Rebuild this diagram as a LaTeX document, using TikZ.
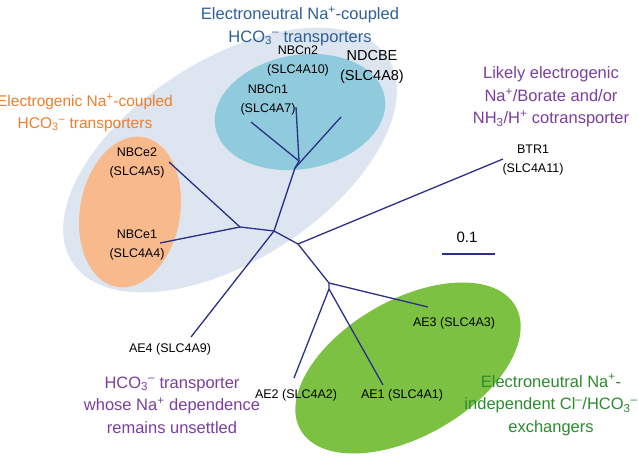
\documentclass[tikz,border=0pt]{standalone}
\usepackage{fontspec}
\setmainfont{Liberation Sans}
\definecolor{bgblue}{HTML}{DDE5F0}
\definecolor{nteal}{HTML}{8FCBDC}
\definecolor{norange}{HTML}{F8BA8C}
\definecolor{ngreen}{HTML}{7DC142}
\definecolor{tblue}{HTML}{2E5F98}
\definecolor{torange}{HTML}{EE7D2C}
\definecolor{tpurple}{HTML}{7A3E9E}
\definecolor{tgreen}{HTML}{2C8A30}
\definecolor{branch}{HTML}{2B2F8A}
\newcommand{\hco}{HCO\textsubscript{3}\textsuperscript{--}}
\newcommand{\up}[1]{\textsuperscript{#1}}
\tikzset{
  gene/.style={align=center, font=\fontsize{12.5}{19}\selectfont, inner sep=1pt},
  group/.style={align=center, font=\fontsize{16.5}{22.5}\selectfont, inner sep=1pt},
  br/.style={branch, line width=1.3pt}
}
\begin{document}
\begin{tikzpicture}[x=1pt,y=-1pt]
\useasboundingbox (0,0) rectangle (638,456);
% clades
\fill[bgblue, rotate around={33:(230,160)}] (230,160) ellipse (188 and 100);
\fill[nteal, rotate around={10:(300,112)}] (300,112) ellipse (86 and 57);
\fill[norange, rotate around={-10:(130,212)}] (130,212) ellipse (50 and 76);
\fill[ngreen, rotate around={30:(408,368)}] (408,368) ellipse (124 and 68);
% tree
\coordinate (c) at (274,231);
\coordinate (d) at (240,227);
\coordinate (b) at (295,168);
\coordinate (a) at (299,161);
\coordinate (e) at (298,244);
\coordinate (f) at (329,283);
\coordinate (g) at (329,289);
\coordinate (tn1) at (251,122);
\coordinate (tn2) at (296,107);
\coordinate (tnd) at (341,117);
\coordinate (te2) at (169,162);
\coordinate (te1) at (160,243);
\coordinate (tbt) at (503,159);
\coordinate (ta4) at (191,337);
\coordinate (ta3) at (428,307);
\coordinate (ta2) at (294,378);
\coordinate (ta1) at (383,385);
\draw[br] (c) -- (b) -- (a) -- (tn1);
\draw[br] (a) -- (tn2);
\draw[br] (b) -- (tnd);
\draw[br] (c) -- (d) -- (te2);
\draw[br] (d) -- (te1);
\draw[br] (c) -- (ta4);
\draw[br] (c) -- (e) -- (tbt);
\draw[br] (e) -- (f) -- (ta3);
\draw[br] (f) -- (g) -- (ta2);
\draw[br] (g) -- (ta1);
% scale bar
\coordinate (s1) at (442,254);
\coordinate (s2) at (495,254);
\draw[br] (s1) -- (s2);
\node[gene, font=\fontsize{15}{17}\selectfont] (sbar) at (467,237) {0.1};
% genes
\node[gene] (nbcn1) at (268,100) {NBCn1\\(SLC4A7)};
\node[gene] (nbcn2) at (298,61) {NBCn2\\(SLC4A10)};
\node[gene, font=\fontsize{14.5}{20}\selectfont] (ndcbe) at (372,67) {NDCBE\\(SLC4A8)};
\node[gene] (nbce2) at (137,163) {NBCe2\\(SLC4A5)};
\node[gene] (nbce1) at (137,245) {NBCe1\\(SLC4A4)};
\node[gene] (btr1) at (533,160) {BTR1\\(SLC4A11)};
\node[gene] (ae4) at (170,349) {AE4 (SLC4A9)};
\node[gene] (ae3) at (454,323) {AE3 (SLC4A3)};
\node[gene] (ae2) at (296,395) {AE2 (SLC4A2)};
\node[gene] (ae1) at (402,395) {AE1 (SLC4A1)};
% groups
\node[group, tblue] (gneut) at (300,26) {Electroneutral Na\up{+}-coupled\\\hco{} transporters};
\node[group, torange, font=\fontsize{15.5}{22}\selectfont] (gelec) at (85,113) {Electrogenic Na\up{+}-coupled\\\hco{} transporters};
\node[group, tpurple] (gbtr) at (551,97) {Likely electrogenic\\Na\up{+}/Borate and/or\\NH\textsubscript{3}/H\up{+} cotransporter};
\node[group, tpurple] (gae4) at (172,405) {\hco{} transporter\\whose Na\up{+} dependence\\remains unsettled};
\node[group, tgreen] (gae) at (551,405) {Electroneutral Na\up{+}-\\independent Cl\up{--}/\hco\\exchangers};
\end{tikzpicture}
\end{document}
